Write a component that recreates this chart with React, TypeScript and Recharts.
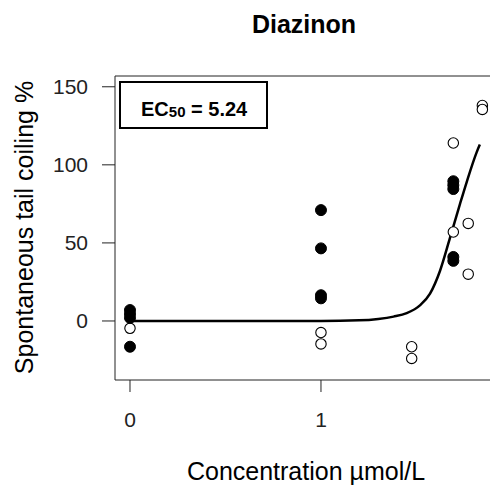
import React from 'react';
import {
  ComposedChart,
  Scatter,
  Line,
  XAxis,
  YAxis,
  ReferenceLine,
} from 'recharts';

// concentration axis position (log scale units) and response in %
const filledConc = [0, 0, 0, 0, 1, 1, 1, 1, 1.693, 1.693, 1.693, 1.693, 1.693];
const filledPct = [7, 4.5, 2, -16.5, 71, 46.5, 16.5, 14.5, 89.5, 87, 84.5, 41, 38.5];

const openConc = [0, 1, 1, 1.475, 1.475, 1.693, 1.693, 1.771, 1.771, 1.845, 1.845];
const openPct = [-4.7, -7.4, -14.7, -16.5, -24, 114, 57, 62.5, 30, 138, 135.5];

// fitted dose-response curve
const curveConc = [0, 1, 1.2, 1.3, 1.38, 1.449, 1.518, 1.571, 1.623, 1.675, 1.728, 1.763, 1.815, 1.832];
const curvePct = [0, 0, 0.4, 1.3, 2.8, 5, 10, 17.5, 32, 53, 75, 89, 108, 113];

const xTicks = [0, 1];
const yTicks = [0, 50, 100, 150];

const filled = filledConc.map((x, i) => ({ x, y: filledPct[i] }));
const open = openConc.map((x, i) => ({ x, y: openPct[i] }));
const curve = curveConc.map((x, i) => ({ x, y: curvePct[i] }));

const X_DOMAIN: [number, number] = [-0.0785, 1.885];
const Y_DOMAIN: [number, number] = [-37.8, 156.9];

const FONT = '"Liberation Sans", Arial, sans-serif';
const AXIS = '#222';

const FilledDot = (props: any) => (
  <circle cx={props.cx} cy={props.cy} r={5.5} fill="#000" stroke="#000" strokeWidth={1} />
);

const OpenDot = (props: any) => (
  <circle cx={props.cx} cy={props.cy} r={5.2} fill="#fff" stroke="#000" strokeWidth={1.1} />
);

export default function App() {
  return (
    <div style={{ position: 'absolute', left: 0, top: 0, width: 490, height: 487, fontFamily: FONT, background: '#fff' }}>
      <ComposedChart
        width={490}
        height={487}
        margin={{ top: 76, right: 0, bottom: 0, left: 55 }}
      >
        <XAxis
          type="number"
          dataKey="x"
          domain={X_DOMAIN}
          ticks={xTicks}
          allowDataOverflow
          height={107}
          stroke={AXIS}
          tickSize={12}
          tickMargin={20}
          tick={{ fill: '#222', fontSize: 21, fontFamily: FONT }}
        />
        <YAxis
          type="number"
          dataKey="y"
          domain={Y_DOMAIN}
          ticks={yTicks}
          allowDataOverflow
          width={60}
          stroke={AXIS}
          tickSize={13}
          tickMargin={14}
          tick={{ fill: '#222', fontSize: 21, fontFamily: FONT }}
        />
        <ReferenceLine y={Y_DOMAIN[1]} stroke={AXIS} strokeWidth={1} />
        <Line
          data={curve}
          dataKey="y"
          type="monotone"
          stroke="#000"
          strokeWidth={2.5}
          dot={false}
          activeDot={false}
          isAnimationActive={false}
        />
        <Scatter data={open} dataKey="y" shape={OpenDot} isAnimationActive={false} />
        <Scatter data={filled} dataKey="y" shape={FilledDot} isAnimationActive={false} />
      </ComposedChart>
      <svg
        width={490}
        height={487}
        style={{ position: 'absolute', left: 0, top: 0, pointerEvents: 'none' }}
      >
        <text x={304} y={33} textAnchor="middle" fontSize={25} fontWeight="bold" fontFamily={FONT} fill="#000">
          Diazinon
        </text>
        <text x={306} y={480} textAnchor="middle" fontSize={25} fontFamily={FONT} fill="#000">
          Concentration µmol/L
        </text>
        <text
          transform="translate(33, 227.5) rotate(-90)"
          textAnchor="middle"
          fontSize={25}
          fontFamily={FONT}
          fill="#000"
        >
          Spontaneous tail coiling %
        </text>
        <rect x={120} y={82} width={147} height={46} fill="#fff" stroke="#000" strokeWidth={2} />
        <text x={141} y={116} fontSize={20} fontWeight="bold" fontFamily={FONT} fill="#000">
          <tspan>EC</tspan>
          <tspan fontSize={15} dy={1}>50</tspan>
          <tspan dy={-1}> = 5.24</tspan>
        </text>
      </svg>
    </div>
  );
}
